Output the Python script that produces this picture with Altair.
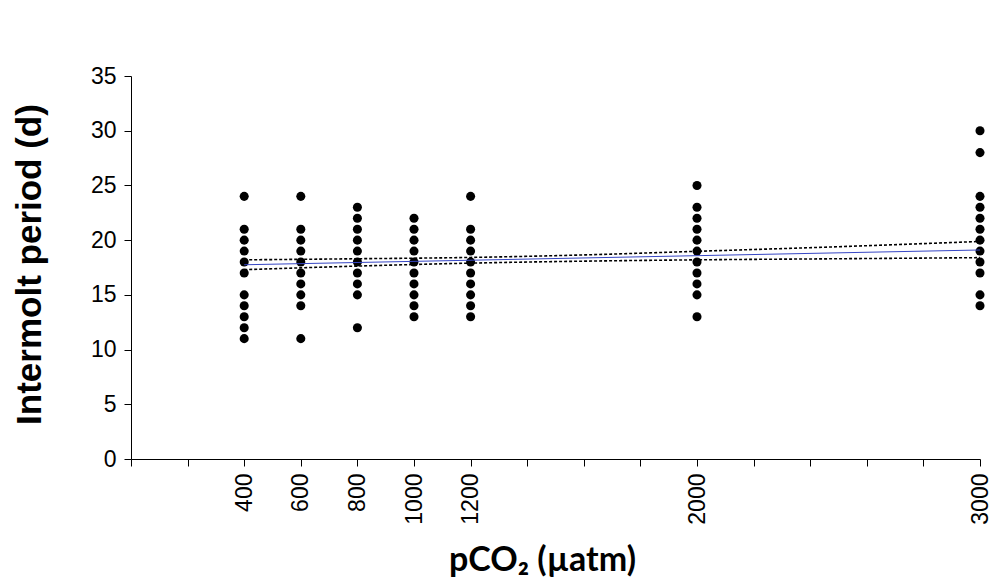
import altair as alt
import pandas as pd

# ---- data ----
co2_levels = [400, 600, 800, 1000, 1200, 2000, 3000]
period_400 = [24, 21, 20, 19, 18, 17, 15, 14, 13, 12, 11]
period_600 = [24, 21, 20, 19, 18, 17, 16, 15, 14, 11]
period_800 = [23, 22, 21, 20, 19, 18, 17, 16, 15, 12]
period_1000 = [22, 21, 20, 19, 18, 17, 16, 15, 14, 13]
period_1200 = [24, 21, 20, 19, 18, 17, 16, 15, 14, 13]
period_2000 = [25, 23, 22, 21, 20, 19, 18, 17, 16, 15, 13]
period_3000 = [30, 28, 24, 23, 22, 21, 20, 19, 18, 17, 15, 14]

fit_x = [400, 3000]
fit_y = [17.75, 19.1]

band_x = [400, 800, 1200, 1600, 2000, 2500, 3000]
band_upper = [18.2, 18.3, 18.42, 18.65, 18.98, 19.4, 19.88]
band_lower = [17.3, 17.63, 17.9, 18.08, 18.2, 18.3, 18.4]

x_ticks = list(range(0, 3001, 200))
x_labels_shown = [400, 600, 800, 1000, 1200, 2000, 3000]
y_ticks = [0, 5, 10, 15, 20, 25, 30, 35]

# ---- tables ----
all_periods = [period_400, period_600, period_800, period_1000,
               period_1200, period_2000, period_3000]
rows = []
for lvl, vals in zip(co2_levels, all_periods):
    for v in vals:
        rows.append({"co2": lvl, "period": v})
points_df = pd.DataFrame(rows)
fit_df = pd.DataFrame({"co2": fit_x, "period": fit_y})
band_df = pd.concat([
    pd.DataFrame({"co2": band_x, "period": band_upper, "band": "upper"}),
    pd.DataFrame({"co2": band_x, "period": band_lower, "band": "lower"}),
])

label_list = ",".join(str(v) for v in x_labels_shown)

x_scale = alt.Scale(domain=[0, 3000], nice=False, zero=True)
y_scale = alt.Scale(domain=[0, 35], nice=False)

x_axis = alt.Axis(
    values=x_ticks, format="d", labelAngle=-90,
    labelExpr=f"indexof([{label_list}], datum.value) >= 0 ? datum.label : ''",
    labelFont="Liberation Sans", labelFontSize=23, labelColor="#000000",
    labelPadding=7, tickSize=7, tickColor="#000000", domainColor="#000000",
    grid=False, labelOverlap=False,
    title="pCO₂ (µatm)", titleFont="Lato", titleFontSize=34, titleFontWeight="bold",
    titleColor="#000000", titleAnchor="start", titleAlign="center",
    titleX=411, titleY=111, titleBaseline="alphabetic",
)
y_axis = alt.Axis(
    values=y_ticks, labelFont="Liberation Sans", labelFontSize=23,
    labelColor="#000000", labelPadding=8, tickSize=7, tickColor="#000000",
    domainColor="#000000", grid=False,
    title="Intermolt period (d)", titleFont="Liberation Sans", titleFontSize=35,
    titleFontWeight="bold", titleColor="#000000", titleAngle=-90,
    titleAlign="center", titleBaseline="alphabetic", titleX=-91, titleY=188,
)

points = alt.Chart(points_df).mark_circle(size=82, opacity=1, color="#000000").encode(
    x=alt.X("co2:Q", scale=x_scale, axis=x_axis),
    y=alt.Y("period:Q", scale=y_scale, axis=y_axis),
)

fit = alt.Chart(fit_df).mark_line(color="#3646c4", strokeWidth=1).encode(
    x=alt.X("co2:Q", scale=x_scale),
    y=alt.Y("period:Q", scale=y_scale),
)

band = alt.Chart(band_df).mark_line(color="#000000", strokeWidth=1.6,
                                    strokeDash=[3, 2], interpolate="monotone").encode(
    x=alt.X("co2:Q", scale=x_scale),
    y=alt.Y("period:Q", scale=y_scale),
    detail="band:N",
)

chart = alt.layer(points, band, fit).properties(
    width=849, height=383,
    autosize=alt.AutoSizeParams(type="none"),
    padding={"left": 131, "top": 76, "right": 13, "bottom": 126},
    background="#ffffff",
).configure_view(stroke=None)

chart.save("out.html", embed_options={"renderer": "svg", "actions": False})
